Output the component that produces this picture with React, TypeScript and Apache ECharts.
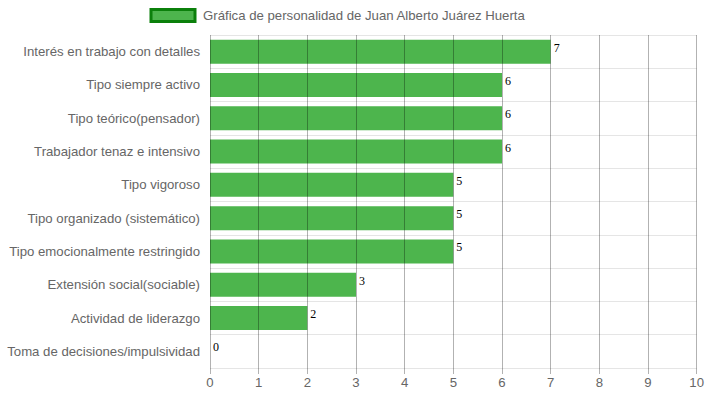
import React, { useEffect, useRef } from "react";
import * as echarts from "echarts";

const seriesName = "Gráfica de personalidad de Juan Alberto Juárez Huerta";
const categories = [
  "Interés en trabajo con detalles",
  "Tipo siempre activo",
  "Tipo teórico(pensador)",
  "Trabajador tenaz e intensivo",
  "Tipo vigoroso",
  "Tipo organizado (sistemático)",
  "Tipo emocionalmente restringido",
  "Extensión social(sociable)",
  "Actividad de liderazgo",
  "Toma de decisiones/impulsividad",
];
const values = [7, 6, 6, 6, 5, 5, 5, 3, 2, 0];
const xMin = 0;
const xMax = 10;
const xInterval = 1;

const sans = "'Liberation Sans', Arial, sans-serif";

export default function App() {
  const ref = useRef<HTMLDivElement>(null);
  useEffect(() => {
    if (!ref.current) return;
    const chart = echarts.init(ref.current, null, { renderer: "svg" });
    chart.setOption({
      animation: false,
      legend: {
        show: true,
        left: 144.5,
        top: 3,
        itemWidth: 44,
        itemHeight: 12,
        icon: "rect",
        itemStyle: { color: "#4db54d", borderColor: "#0b800b", borderWidth: 3 },
        textStyle: {
          color: "#666",
          fontSize: 13.2,
          fontFamily: sans,
          padding: [0, 0, 0, 3],
        },
        data: [seriesName],
      },
      grid: { left: 210, right: 10, top: 35, bottom: 30, containLabel: false },
      xAxis: {
        type: "value",
        min: xMin,
        max: xMax,
        interval: xInterval,
        z: 5,
        axisLine: { show: false },
        axisTick: { show: true, length: 6, lineStyle: { color: "rgba(0,0,0,0.3)" } },
        axisLabel: {
          color: "#666",
          fontSize: 13.2,
          fontFamily: sans,
          margin: 8,
        },
        splitLine: { show: true, lineStyle: { color: "rgba(0,0,0,0.3)", width: 1 } },
      },
      yAxis: {
        type: "category",
        inverse: true,
        data: categories,
        boundaryGap: true,
        axisLine: { show: false },
        axisTick: { show: false },
        axisLabel: {
          color: "#666",
          fontSize: 13.2,
          fontFamily: sans,
          margin: 10,
        },
        splitLine: { show: true, lineStyle: { color: "rgba(0,0,0,0.1)", width: 1 } },
      },
      series: [
        {
          name: seriesName,
          type: "bar",
          data: values,
          barWidth: 24,
          itemStyle: { color: "#4db54d" },
          label: {
            show: true,
            position: ["100%", 0],
            offset: [3, 2],
            align: "left",
            verticalAlign: "top",
            color: "#000",
            fontSize: 12,
            fontFamily: "'Liberation Serif', 'Times New Roman', serif",
          },
        },
      ],
    });
    return () => chart.dispose();
  }, []);
  return <div ref={ref} style={{ width: 707, height: 398, position: "absolute", left: 0, top: 0 }} />;
}
